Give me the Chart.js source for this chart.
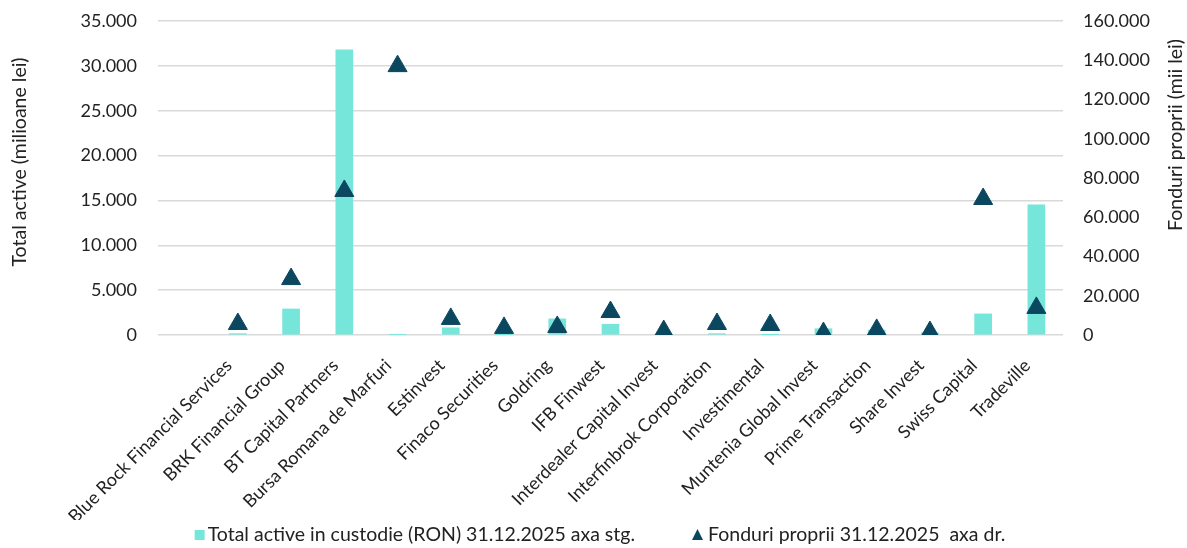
<!DOCTYPE html>
<html>
<head>
<meta charset="utf-8">
<script src="https://cdn.jsdelivr.net/npm/chart.js@4"></script>
<style>
  html, body { margin: 0; padding: 0; background: #fff; }
  #wrap { width: 1187px; height: 548px; }
</style>
</head>
<body>
<div id="wrap"><canvas id="myChart" width="1187" height="548"></canvas></div>
<script>
  // data
  var firme = ['', 'Blue Rock Financial Services', 'BRK Financial Group', 'BT Capital Partners',
    'Bursa Romana de Marfuri', 'Estinvest', 'Finaco Securities', 'Goldring', 'IFB Finwest',
    'Interdealer Capital Invest', 'Interfinbrok Corporation', 'Investimental',
    'Muntenia Global Invest', 'Prime Transaction', 'Share Invest', 'Swiss Capital', 'Tradeville'];
  var totalActive = [null, 150, 2900, 31800, 50, 800, 30, 1800, 1200, 20, 150, 40, 700, 550, 250, 2350, 14500];
  var fonduriProprii = [null, 5600, 28500, 73400, 137000, 8200, 3600, 4100, 11700, 2000, 5600, 5100, 1000, 2600, 1500, 69300, 13800];
  var leftTicks = { min: 0, max: 35000, step: 5000 };
  var rightTicks = { min: 0, max: 160000, step: 20000 };

  var FONT = 'Lato, "Noto Sans", sans-serif';
  var TEAL = '#76E5DA';
  var NAVY = '#0C4760';

  function fmt(v) {
    return String(v).replace(/\B(?=(\d{3})+(?!\d))/g, '.');
  }

  // titles + legend drawn by hand (right title reads bottom-to-top, wide legend gap)
  var extras = {
    id: 'extras',
    afterDraw: function(chart) {
      var c = chart.ctx;
      c.save();
      c.fillStyle = '#222';
      c.font = '19.5px ' + FONT;
      c.textAlign = 'center';
      c.textBaseline = 'middle';

      c.save();
      c.translate(20, 162);
      c.rotate(-Math.PI / 2);
      c.fillText('Total active (milioane lei)', 0, 0);
      c.restore();

      c.save();
      c.translate(1176, 135);
      c.rotate(-Math.PI / 2);
      c.fillText('Fonduri proprii (mii lei)', 0, 0);
      c.restore();

      // legend
      var ds = chart.data.datasets;
      var t1 = ds[0].label, t2 = ds[1].label;
      var w1 = c.measureText(t1).width, w2 = c.measureText(t2).width;
      var gap = 57;
      var total = 10 + 3 + w1 + gap + 11 + 5 + w2;
      var x = 600 - total / 2;
      var y = 535;
      c.textAlign = 'left';
      c.fillStyle = TEAL;
      c.fillRect(x, y - 5, 10, 10);
      c.fillStyle = '#222';
      c.fillText(t1, x + 13, y);
      x += 13 + w1 + gap;
      c.fillStyle = NAVY;
      c.beginPath();
      c.moveTo(x + 5.5, y - 6);
      c.lineTo(x + 11, y + 5);
      c.lineTo(x, y + 5);
      c.closePath();
      c.fill();
      c.fillStyle = '#222';
      c.fillText(t2, x + 16, y);
      c.restore();
    }
  };

  var ctx = document.getElementById('myChart');

  var myChart = new Chart(ctx, {
    data: {
      labels: firme,
      datasets: [
        {
          type: 'bar',
          label: 'Total active in custodie (RON) 31.12.2025 axa stg.',
          data: totalActive,
          backgroundColor: TEAL,
          barThickness: 17,
          yAxisID: 'y',
          order: 2
        },
        {
          type: 'line',
          label: 'Fonduri proprii 31.12.2025  axa dr.',
          data: fonduriProprii,
          showLine: false,
          pointStyle: 'triangle',
          pointRadius: 11,
          pointBackgroundColor: NAVY,
          pointBorderColor: NAVY,
          pointBorderWidth: 1,
          yAxisID: 'y1',
          order: 1
        }
      ]
    },
    options: {
      responsive: false,
      animation: false,
      devicePixelRatio: 1,
      layout: { autoPadding: false, padding: { top: 21, left: 0, right: 0, bottom: 28 } },
      plugins: {
        legend: { display: false },
        tooltip: { enabled: false }
      },
      scales: {
        x: {
          offset: true,
          grid: { display: false },
          border: { display: false },
          ticks: {
            autoSkip: false,
            minRotation: 45,
            maxRotation: 45,
            padding: 12,
            labelOffset: -9,
            color: '#222',
            font: { family: FONT, size: 18 }
          },
          afterFit: function(s) { s.height = 185; }
        },
        y: {
          position: 'left',
          min: leftTicks.min,
          max: leftTicks.max,
          grid: { color: '#D9D9D9', lineWidth: 1.5, drawTicks: true, tickLength: 21, tickColor: 'rgba(0,0,0,0)' },
          border: { display: false },
          ticks: {
            stepSize: leftTicks.step,
            padding: 0,
            color: '#222',
            font: { family: FONT, size: 18 },
            callback: function(v) { return fmt(v); }
          },
          afterFit: function(s) { s.width = 158; }
        },
        y1: {
          position: 'right',
          min: rightTicks.min,
          max: rightTicks.max,
          grid: { display: false, drawTicks: true, tickLength: 20 },
          border: { display: false },
          ticks: {
            stepSize: rightTicks.step,
            padding: 0,
            color: '#222',
            font: { family: FONT, size: 18 },
            callback: function(v) { return fmt(v); }
          },
          afterFit: function(s) { s.width = 124; }
        }
      }
    },
    plugins: [extras]
  });
</script>
</body>
</html>
